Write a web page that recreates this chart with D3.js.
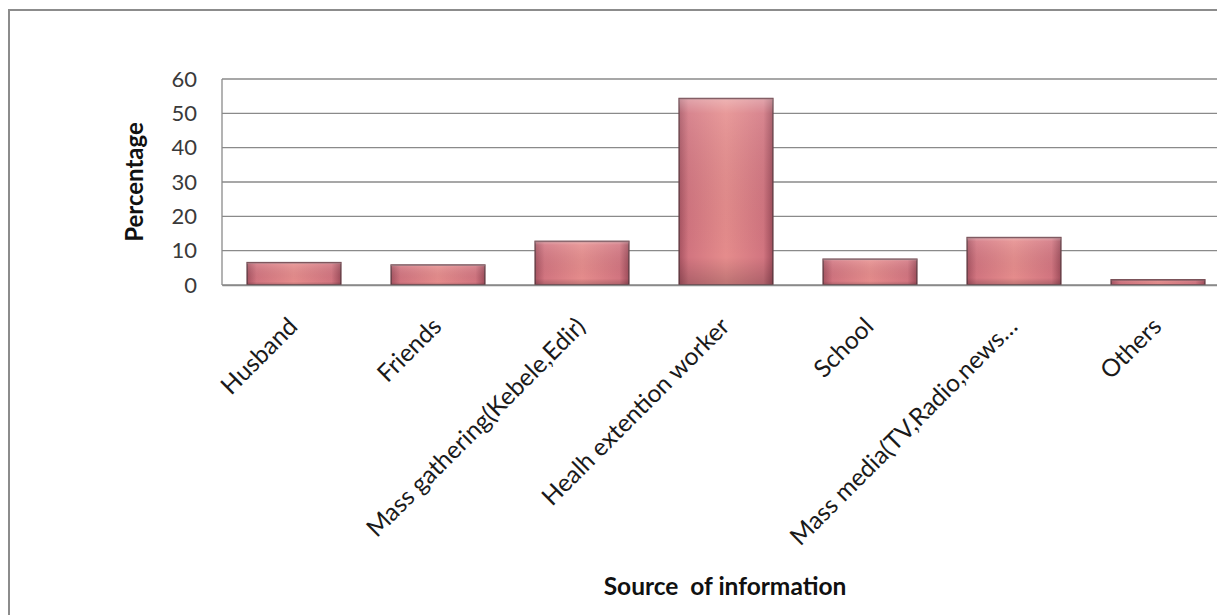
<!DOCTYPE html>
<html>
<head>
<meta charset="utf-8">
<script src="https://cdn.jsdelivr.net/npm/d3@7"></script>
<style>
  html, body { margin: 0; padding: 0; background: #fff; overflow: hidden; }
  svg { display: block; }
  text { font-family: Lato, "Open Sans", sans-serif; }
</style>
</head>
<body>
<svg id="chart" width="1217" height="615"></svg>
<script>
const categories = [
  "Husband",
  "Friends",
  "Mass gathering(Kebele,Edir)",
  "Healh extention worker",
  "School",
  "Mass media(TV,Radio,news…",
  "Others"
];
const percentages = [6.5, 5.8, 12.7, 54.3, 7.5, 13.8, 1.5];
const yTicks = [0, 10, 20, 30, 40, 50, 60];
const yTitle = "Percentage";
const xTitle = "Source  of information";

const svg = d3.select("#chart");
const W = 1217, H = 615;
const plot = { left: 222, right: 1230, top: 79, bottom: 285 };

// outer chart border
svg.append("rect")
  .attr("x", 9).attr("y", 10)
  .attr("width", W + 20).attr("height", H + 20)
  .attr("fill", "#fff")
  .attr("stroke", "#8c8c8c").attr("stroke-width", 2);

const x = d3.scaleBand()
  .domain(categories)
  .range([plot.left, plot.right])
  .paddingInner(0.35).paddingOuter(0.175);

const y = d3.scaleLinear().domain([0, 60]).range([plot.bottom, plot.top]);

// gradient for bars
const defs = svg.append("defs");
const grad = defs.append("linearGradient").attr("id", "barGrad")
  .attr("x1", "0").attr("x2", "1").attr("y1", "0").attr("y2", "0");
[["0%", "#a85462"], ["10%", "#d27580"], ["50%", "#e58c8c"], ["90%", "#d27580"], ["100%", "#a04e5c"]]
  .forEach(([o, c]) => grad.append("stop").attr("offset", o).attr("stop-color", c));
const gradV = defs.append("linearGradient").attr("id", "barShade")
  .attr("x1", "0").attr("x2", "0").attr("y1", "0").attr("y2", "1");
[["0%", "#ffffff", 0.35], ["8%", "#ffffff", 0.12], ["85%", "#000000", 0.0], ["100%", "#000000", 0.18]]
  .forEach(([o, c, op]) => gradV.append("stop").attr("offset", o).attr("stop-color", c).attr("stop-opacity", op));

// gridlines
svg.append("g")
  .selectAll("line")
  .data(yTicks)
  .join("line")
  .attr("x1", plot.left).attr("x2", plot.right)
  .attr("y1", d => y(d)).attr("y2", d => y(d))
  .attr("stroke", "#8a8a8a").attr("stroke-width", 1.3);

// plot area left border
svg.append("line")
  .attr("x1", plot.left).attr("x2", plot.left)
  .attr("y1", plot.top).attr("y2", plot.bottom)
  .attr("stroke", "#8a8a8a").attr("stroke-width", 1.3);

// y axis labels
const yAxis = d3.axisLeft(y).tickValues(yTicks).tickSize(0).tickPadding(25);
const gy = svg.append("g").attr("transform", `translate(${plot.left},0)`).call(yAxis);
gy.select(".domain").remove();
gy.selectAll("text")
  .attr("fill", "#3a3a3a")
  .style("font-size", "22px")
  .style("font-family", "Lato, sans-serif");

// bars
const data = categories.map((c, i) => ({ c, v: percentages[i] }));
const bars = svg.append("g");
bars.selectAll("rect.bar")
  .data(data)
  .join("rect")
  .attr("class", "bar")
  .attr("x", d => x(d.c))
  .attr("y", d => y(d.v))
  .attr("width", x.bandwidth())
  .attr("height", d => y(0) - y(d.v))
  .attr("fill", "url(#barGrad)")
  .attr("stroke", "#6e424a").attr("stroke-width", 1.6);
bars.selectAll("rect.shade")
  .data(data)
  .join("rect")
  .attr("class", "shade")
  .attr("x", d => x(d.c))
  .attr("y", d => y(d.v))
  .attr("width", x.bandwidth())
  .attr("height", d => y(0) - y(d.v))
  .attr("fill", "url(#barShade)");

// x axis line
const xAxis = d3.axisBottom(x).tickSize(0).tickPadding(0);
const gx = svg.append("g").attr("transform", `translate(0,${plot.bottom})`).call(xAxis);
gx.select(".domain").attr("stroke", "#8a8a8a").attr("stroke-width", 1.3);
gx.selectAll(".tick text")
  .attr("text-anchor", "end")
  .attr("dy", null)
  .attr("y", 0)
  .attr("transform", "translate(5,43) rotate(-45)")
  .attr("fill", "#1a1a1a")
  .style("font-size", "24.5px")
  .style("font-family", "Lato, sans-serif");

// axis titles
svg.append("text")
  .attr("transform", `translate(143,${(plot.top + plot.bottom) / 2}) rotate(-90)`)
  .attr("text-anchor", "middle")
  .attr("fill", "#111")
  .style("font-size", "24px")
  .style("font-weight", "bold")
  .text(yTitle);

svg.append("text")
  .attr("x", (plot.left + plot.right) / 2 - 1)
  .attr("y", 595)
  .attr("text-anchor", "middle")
  .attr("fill", "#111")
  .style("font-size", "24.5px")
  .style("font-weight", "bold")
  .style("white-space", "pre")
  .attr("xml:space", "preserve")
  .text(xTitle);
</script>
</body>
</html>
